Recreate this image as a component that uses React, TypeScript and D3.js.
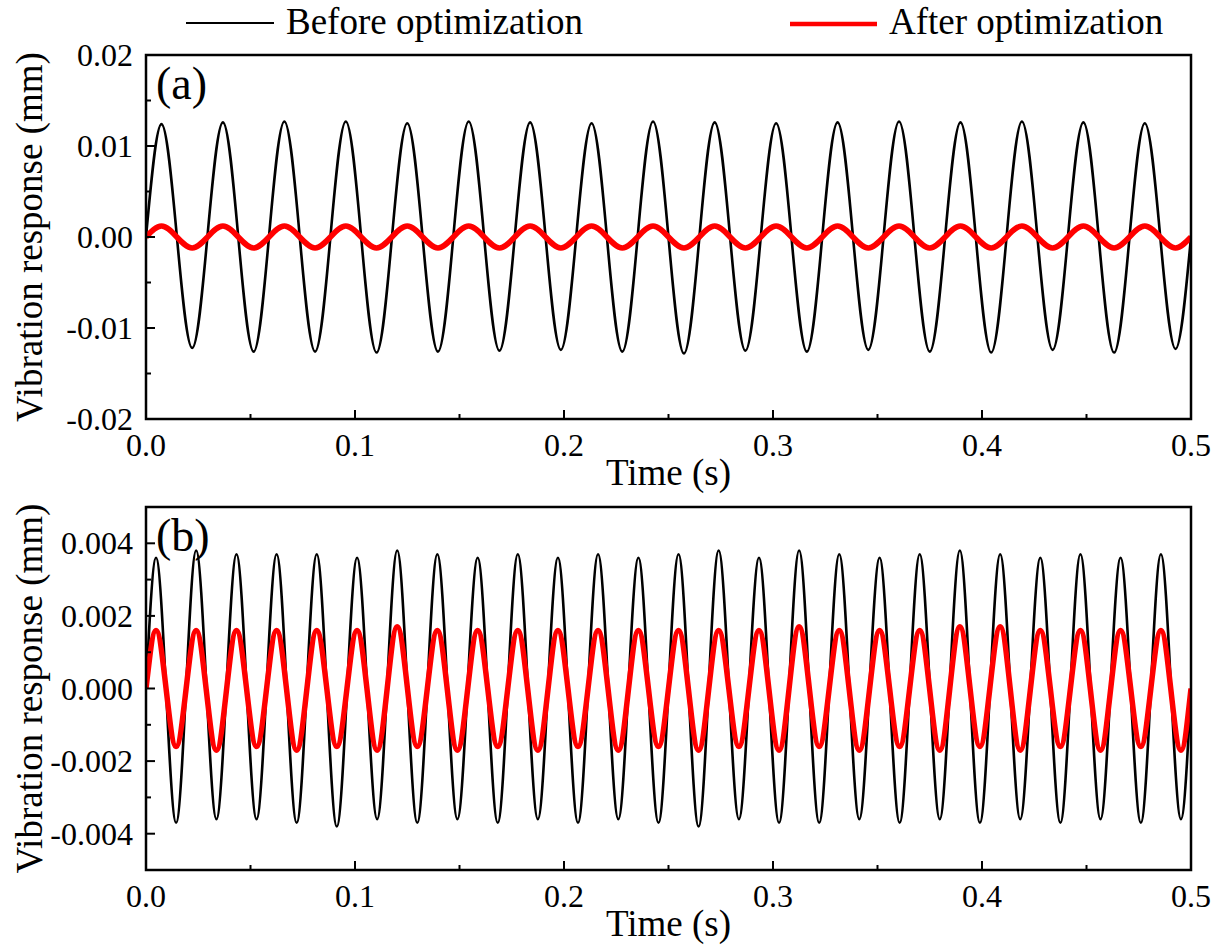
import React from 'react';
import * as d3 from 'd3';

// ---------- axis data ----------
const timeDomain: [number, number] = [0, 0.5];
const xTicks = [0, 0.1, 0.2, 0.3, 0.4, 0.5];
const xTickLabels = ['0.0', '0.1', '0.2', '0.3', '0.4', '0.5'];
const xMinorTicks = [0.05, 0.15, 0.25, 0.35, 0.45];

const aDomain: [number, number] = [-0.02, 0.02];
const aTicks = [0.02, 0.01, 0, -0.01, -0.02];
const aTickLabels = ['0.02', '0.01', '0.00', '-0.01', '-0.02'];
const aMinorTicks = [0.015, 0.005, -0.005, -0.015];

const bDomain: [number, number] = [-0.005, 0.005];
const bTicks = [0.004, 0.002, 0, -0.002, -0.004];
const bTickLabels = ['0.004', '0.002', '0.000', '-0.002', '-0.004'];
const bMinorTicks = [0.005, 0.003, 0.001, -0.001, -0.003, -0.005];

const seriesNames = ['Before optimization', 'After optimization'];

// ---------- panel (a) readings: extremes of each cycle (~34 Hz) ----------
const aPeakTimes = [0.0074, 0.0368, 0.0662, 0.0956, 0.125, 0.1544, 0.1838, 0.2132, 0.2426, 0.2721, 0.3015, 0.3309, 0.3603, 0.3897, 0.4191, 0.4485, 0.4779];
const aTroughTimes = [0.0221, 0.0515, 0.0809, 0.1103, 0.1397, 0.1691, 0.1985, 0.2279, 0.2574, 0.2868, 0.3162, 0.3456, 0.375, 0.4044, 0.4338, 0.4632, 0.4926];
const aBeforePeaks = [0.0124, 0.0126, 0.0127, 0.0127, 0.0125, 0.0127, 0.0126, 0.0125, 0.0127, 0.0126, 0.0125, 0.0126, 0.0127, 0.0126, 0.0127, 0.0126, 0.0125];
const aBeforeTroughs = [-0.0122, -0.0126, -0.0126, -0.0127, -0.0126, -0.0125, -0.0124, -0.0126, -0.0128, -0.0125, -0.0126, -0.0124, -0.0126, -0.0127, -0.0124, -0.0127, -0.0123];
const aAfterPeaks = [0.0012, 0.0012, 0.0012, 0.0012, 0.0012, 0.0012, 0.0012, 0.0012, 0.0012, 0.0012, 0.0012, 0.0012, 0.0012, 0.0012, 0.0012, 0.0012, 0.0012];
const aAfterTroughs = [-0.0012, -0.0012, -0.0012, -0.0012, -0.0012, -0.0012, -0.0012, -0.0012, -0.0012, -0.0012, -0.0012, -0.0012, -0.0012, -0.0012, -0.0012, -0.0012, -0.0012];

// ---------- panel (b) readings: extremes of each cycle (~52 Hz) ----------
const bPeakTimes = [0.0048, 0.024, 0.0433, 0.0625, 0.0817, 0.101, 0.1202, 0.1394, 0.1587, 0.1779, 0.1971, 0.2163, 0.2356, 0.2548, 0.274, 0.2933, 0.3125, 0.3317, 0.351, 0.3702, 0.3894, 0.4087, 0.4279, 0.4471, 0.4663, 0.4856];
const bTroughTimes = [0.0144, 0.0337, 0.0529, 0.0721, 0.0913, 0.1106, 0.1298, 0.149, 0.1683, 0.1875, 0.2067, 0.226, 0.2452, 0.2644, 0.2837, 0.3029, 0.3221, 0.3413, 0.3606, 0.3798, 0.399, 0.4183, 0.4375, 0.4567, 0.476, 0.4952];
const bBeforePeaks = [0.0036, 0.0038, 0.0037, 0.0037, 0.0037, 0.0036, 0.0038, 0.0037, 0.0036, 0.0037, 0.0036, 0.0037, 0.0036, 0.0037, 0.0038, 0.0036, 0.0038, 0.0037, 0.0036, 0.0037, 0.0038, 0.0037, 0.0036, 0.0037, 0.0036, 0.0037];
const bBeforeTroughs = [-0.0037, -0.0036, -0.0036, -0.0037, -0.0038, -0.0036, -0.0037, -0.0036, -0.0037, -0.0036, -0.0037, -0.0036, -0.0037, -0.0038, -0.0036, -0.0037, -0.0037, -0.0036, -0.0037, -0.0036, -0.0037, -0.0036, -0.0037, -0.0036, -0.0037, -0.0036];
const bAfterPeaks = [0.0016, 0.0016, 0.0016, 0.0016, 0.0016, 0.0016, 0.0017, 0.0016, 0.0016, 0.0016, 0.0016, 0.0016, 0.0016, 0.0016, 0.0016, 0.0016, 0.0017, 0.0016, 0.0016, 0.0016, 0.0017, 0.0017, 0.0016, 0.0016, 0.0016, 0.0016];
const bAfterTroughs = [-0.0016, -0.0017, -0.0016, -0.0017, -0.0016, -0.0017, -0.0016, -0.0017, -0.0016, -0.0017, -0.0016, -0.0017, -0.0016, -0.0017, -0.0016, -0.0017, -0.0016, -0.0017, -0.0016, -0.0017, -0.0016, -0.0017, -0.0016, -0.0017, -0.0016, -0.0017];

type Pt = { t: number; v: number };

function buildSeries(peakT: number[], troughT: number[], peaks: number[], troughs: number[]): Pt[] {
  const pts: Pt[] = [{ t: timeDomain[0], v: 0 }];
  peakT.forEach((t, i) => {
    pts.push({ t, v: peaks[i] });
    if (troughT[i] !== undefined) pts.push({ t: troughT[i], v: troughs[i] });
  });
  pts.push({ t: timeDomain[1], v: 0 });
  return pts;
}

const FONT = '"Liberation Serif", "Times New Roman", serif';
const LEFT = 146;
const RIGHT = 1191;

type PanelProps = {
  id: string;
  top: number;
  bottom: number;
  domain: [number, number];
  ticks: number[];
  tickLabels: string[];
  minor: number[];
  letter: string;
  before: Pt[];
  after: Pt[];
};

function Panel({ id, top, bottom, domain, ticks, tickLabels, minor, letter, before, after }: PanelProps) {
  const x = d3.scaleLinear().domain(timeDomain).range([LEFT, RIGHT]);
  const y = d3.scaleLinear().domain(domain).range([bottom, top]);
  const line = d3
    .line<Pt>()
    .x((d) => x(d.t))
    .y((d) => y(d.v))
    .curve(d3.curveMonotoneX);
  const midY = (top + bottom) / 2;
  return (
    <g>
      <defs>
        <clipPath id={id}>
          <rect x={LEFT} y={top} width={RIGHT - LEFT} height={bottom - top} />
        </clipPath>
      </defs>
      <g clipPath={`url(#${id})`}>
        <path d={line(before) || ''} fill="none" stroke="#000" strokeWidth={2.6} strokeLinejoin="round" />
        <path d={line(after) || ''} fill="none" stroke="#ff0000" strokeWidth={5.5} strokeLinejoin="round" />
      </g>
      <rect x={LEFT} y={top} width={RIGHT - LEFT} height={bottom - top} fill="none" stroke="#000" strokeWidth={2.5} />
      {xTicks.map((t, i) => (
        <g key={'xt' + i}>
          <line x1={x(t)} x2={x(t)} y1={bottom} y2={bottom - 9} stroke="#000" strokeWidth={2} />
          <text x={x(t)} y={bottom + 37} textAnchor="middle" fontFamily={FONT} fontSize={32}>
            {xTickLabels[i]}
          </text>
        </g>
      ))}
      {xMinorTicks.map((t, i) => (
        <line key={'xm' + i} x1={x(t)} x2={x(t)} y1={bottom} y2={bottom - 5} stroke="#000" strokeWidth={2} />
      ))}
      {ticks.map((v, i) => (
        <g key={'yt' + i}>
          <line x1={LEFT} x2={LEFT + 9} y1={y(v)} y2={y(v)} stroke="#000" strokeWidth={2} />
          <text x={LEFT - 13} y={y(v) + 11} textAnchor="end" fontFamily={FONT} fontSize={32}>
            {tickLabels[i]}
          </text>
        </g>
      ))}
      {minor.map((v, i) => (
        <line key={'ym' + i} x1={LEFT} x2={LEFT + 5} y1={y(v)} y2={y(v)} stroke="#000" strokeWidth={2} />
      ))}
      <text x={(LEFT + RIGHT) / 2} y={bottom + 66} textAnchor="middle" fontFamily={FONT} fontSize={37}>
        Time (s)
      </text>
      <text
        transform={`translate(42,${midY}) rotate(-90)`}
        textAnchor="middle"
        fontFamily={FONT}
        fontSize={37}
      >
        Vibration response (mm)
      </text>
      <text x={LEFT + 10} y={top + 44} fontFamily={FONT} fontSize={46}>
        {letter}
      </text>
    </g>
  );
}

export default function App() {
  const aBefore = buildSeries(aPeakTimes, aTroughTimes, aBeforePeaks, aBeforeTroughs);
  const aAfter = buildSeries(aPeakTimes, aTroughTimes, aAfterPeaks, aAfterTroughs);
  const bBefore = buildSeries(bPeakTimes, bTroughTimes, bBeforePeaks, bBeforeTroughs);
  const bAfter = buildSeries(bPeakTimes, bTroughTimes, bAfterPeaks, bAfterTroughs);
  return (
    <svg
      width={1219}
      height={951}
      style={{ position: 'absolute', left: 0, top: 0, background: '#fff' }}
    >
      <rect x={0} y={0} width={1219} height={951} fill="#fff" />
      <line x1={186} x2={274} y1={23} y2={23} stroke="#000" strokeWidth={2} />
      <text x={286} y={34} fontFamily={FONT} fontSize={37}>
        {seriesNames[0]}
      </text>
      <line x1={790} x2={877} y1={24} y2={24} stroke="#ff0000" strokeWidth={4.5} />
      <text x={889} y={34} fontFamily={FONT} fontSize={37}>
        {seriesNames[1]}
      </text>
      <Panel
        id="clipA"
        top={55}
        bottom={419}
        domain={aDomain}
        ticks={aTicks}
        tickLabels={aTickLabels}
        minor={aMinorTicks}
        letter="(a)"
        before={aBefore}
        after={aAfter}
      />
      <Panel
        id="clipB"
        top={507}
        bottom={870}
        domain={bDomain}
        ticks={bTicks}
        tickLabels={bTickLabels}
        minor={bMinorTicks}
        letter="(b)"
        before={bBefore}
        after={bAfter}
      />
    </svg>
  );
}
